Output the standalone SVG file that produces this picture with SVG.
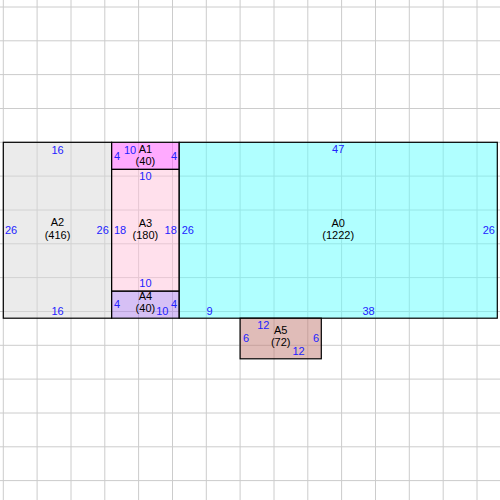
<svg xmlns="http://www.w3.org/2000/svg" width="500" height="500" viewBox="0 0 500 500">
<style>
.grid{stroke:#cccccc;stroke-width:1;fill:none}
.box{stroke:#000;stroke-width:1.2;fill-opacity:0.5}
.lbl{font-family:"Liberation Sans",Arial,sans-serif;font-size:11px;fill:#000;text-anchor:middle}
.num{font-family:"Liberation Sans",Arial,sans-serif;font-size:11px;fill:#2222ff}
.m{text-anchor:middle}
.s{text-anchor:start}
.e{text-anchor:end}
</style>
<rect x="0" y="0" width="500" height="500" fill="#fff"/>
<g id="grid">
<path class="grid" d="M3.3 0V500M37.1 0V500M71 0V500M104.8 0V500M138.6 0V500M172.5 0V500M206.3 0V500M240.1 0V500M274 0V500M307.8 0V500M341.6 0V500M375.5 0V500M409.3 0V500M443.2 0V500M477 0V500M0 7H500M0 40.8H500M0 74.6H500M0 108.5H500M0 142.3H500M0 176.1H500M0 210H500M0 243.8H500M0 277.6H500M0 311.5H500M0 345.3H500M0 379.1H500M0 413H500M0 446.8H500M0 480.6H500"/>
</g>
<g id="connectors"></g>
<g id="A2">
<rect class="box" x="3.3" y="142.3" width="108.3" height="175.9" fill="#d7d7d7"/>
<text class="lbl" x="57.5" y="226">A2</text>
<text class="lbl" x="57.5" y="238.5">(416)</text>
<text class="num m" x="57.5" y="153.5">16</text>
<text class="num m" x="57.5" y="315">16</text>
<text class="num s" x="5" y="234">26</text>
<text class="num e" x="108.8" y="234">26</text>
</g>
<g id="A1">
<rect class="box" x="111.6" y="142.3" width="67.6" height="27.1" fill="#ff55ff"/>
<text class="lbl" x="145.4" y="153">A1</text>
<text class="lbl" x="145.4" y="165">(40)</text>
<text class="num m" x="130" y="153.5">10</text>
<text class="num s" x="114" y="159.5">4</text>
<text class="num e" x="177" y="159.5">4</text>
</g>
<g id="A3">
<rect class="box" x="111.6" y="169.4" width="67.6" height="121.8" fill="#ffc1d9"/>
<text class="lbl" x="145.4" y="226.5">A3</text>
<text class="lbl" x="145.4" y="238.5">(180)</text>
<text class="num m" x="145.4" y="179.7">10</text>
<text class="num m" x="145.4" y="287">10</text>
<text class="num s" x="114" y="234">18</text>
<text class="num e" x="176.8" y="234">18</text>
</g>
<g id="A4">
<rect class="box" x="111.6" y="291.2" width="67.6" height="27" fill="#ad81eb"/>
<text class="lbl" x="145.4" y="299.5">A4</text>
<text class="lbl" x="145.4" y="312">(40)</text>
<text class="num m" x="162.3" y="314.5">10</text>
<text class="num s" x="114" y="308">4</text>
<text class="num e" x="177" y="308">4</text>
</g>
<g id="A0">
<rect class="box" x="179.2" y="142.3" width="318.1" height="175.9" fill="#61ffff"/>
<text class="lbl" x="338.2" y="226.5">A0</text>
<text class="lbl" x="338.2" y="238.5">(1222)</text>
<text class="num m" x="338.2" y="152.5">47</text>
<text class="num s" x="181.7" y="234">26</text>
<text class="num e" x="495" y="234">26</text>
<text class="num m" x="209.5" y="315">9</text>
<text class="num m" x="368.5" y="315">38</text>
</g>
<g id="A5">
<rect class="box" x="240.1" y="318.2" width="81.2" height="40.6" fill="#c17971"/>
<text class="lbl" x="280.7" y="333.5">A5</text>
<text class="lbl" x="280.7" y="345.7">(72)</text>
<text class="num s" x="243" y="342">6</text>
<text class="num e" x="319" y="342">6</text>
<text class="num m" x="263.3" y="329">12</text>
<text class="num m" x="298.5" y="355">12</text>
</g>
</svg>
